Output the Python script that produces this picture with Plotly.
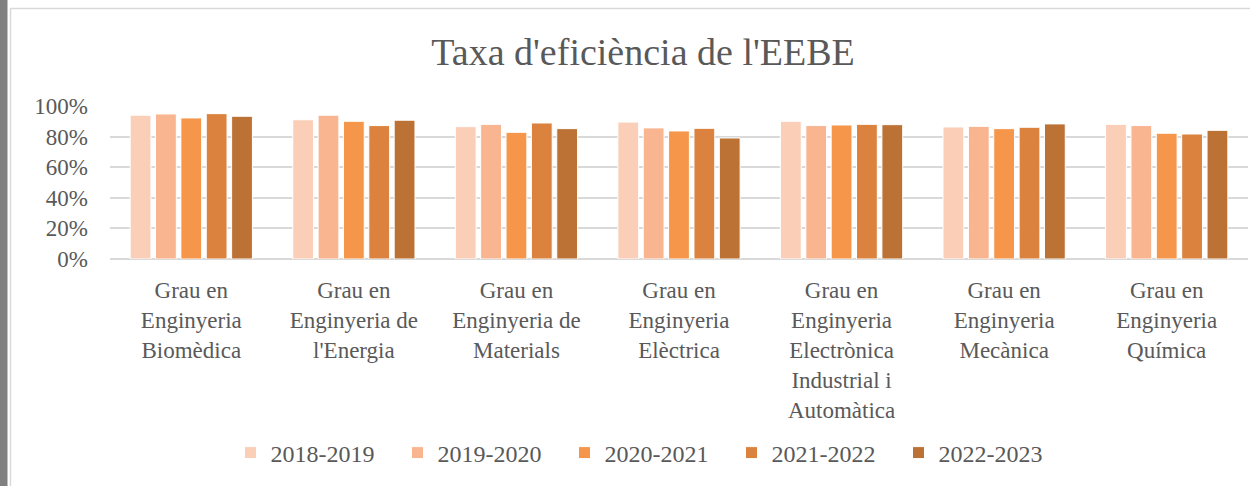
import plotly.graph_objects as go

categories = [
    "Grau en<br>Enginyeria<br>Biomèdica",
    "Grau en<br>Enginyeria de<br>l'Energia",
    "Grau en<br>Enginyeria de<br>Materials",
    "Grau en<br>Enginyeria<br>Elèctrica",
    "Grau en<br>Enginyeria<br>Electrònica<br>Industrial i<br>Automàtica",
    "Grau en<br>Enginyeria<br>Mecànica",
    "Grau en<br>Enginyeria<br>Química",
]

series_names = ["2018-2019", "2019-2020", "2020-2021", "2021-2022", "2022-2023"]

v_2018_2019 = [0.94, 0.91, 0.865, 0.895, 0.900, 0.863, 0.880]
v_2019_2020 = [0.948, 0.94, 0.880, 0.857, 0.872, 0.867, 0.872]
v_2020_2021 = [0.922, 0.90, 0.828, 0.837, 0.876, 0.852, 0.822]
v_2021_2022 = [0.95, 0.872, 0.889, 0.854, 0.880, 0.861, 0.817]
v_2022_2023 = [0.933, 0.907, 0.852, 0.791, 0.878, 0.883, 0.841]

series_values = [v_2018_2019, v_2019_2020, v_2020_2021, v_2021_2022, v_2022_2023]
colors = ["#FBCEB8", "#F9B490", "#F5964A", "#DB833E", "#BB7234"]

y_ticks = [0, 0.2, 0.4, 0.6, 0.8, 1.0]

FONT = "Liberation Serif, DejaVu Serif, serif"
TXT = "#595959"

fig = go.Figure()
for name, vals, col in zip(series_names, series_values, colors):
    fig.add_trace(go.Bar(
        x=categories, y=vals, name=name,
        marker=dict(color=col, line=dict(color="#FFFFFF", width=1)),
    ))

# plot area in pixels: x 110..1248, y 106..259
L, R, T, B = 110, 2, 106, 227
W, H = 1250, 486
pw = W - L - R
ph = H - T - B

def px_x(px):
    return (px - L) / pw

def px_y(py):
    return (H - B - py) / ph

shapes = [
    dict(type="rect", xref="paper", yref="paper",
         x0=px_x(0), x1=px_x(7.5), y0=px_y(H), y1=px_y(0),
         fillcolor="#808080", line=dict(width=0), layer="below"),
    dict(type="path", xref="paper", yref="paper",
         path=f"M {px_x(10.5)},{px_y(H)} L {px_x(10.5)},{px_y(8.5)} L {px_x(W)},{px_y(8.5)}",
         line=dict(color="#D9D9D9", width=1.5), layer="below"),
]

fig.update_layout(
    width=W, height=H,
    margin=dict(l=L, r=R, t=T, b=B, pad=0),
    paper_bgcolor="#FFFFFF", plot_bgcolor="#FFFFFF",
    font=dict(family=FONT, color=TXT, size=23),
    title=dict(text="Taxa d'eficiència de l'EEBE", x=643 / W, y=1 - 52 / H,
               xanchor="center", yanchor="middle", xref="container", yref="container",
               font=dict(family=FONT, size=38, color=TXT)),
    barmode="group", bargap=0.22, bargroupgap=0.18,
    showlegend=True,
    legend=dict(orientation="h", x=px_x(648), y=px_y(453), xanchor="center", yanchor="middle",
                font=dict(family=FONT, size=24, color=TXT), traceorder="normal",
                entrywidth=122, entrywidthmode="pixels",
                bgcolor="rgba(0,0,0,0)"),
    shapes=shapes,
)
fig.update_yaxes(range=[0, 1.0], tickvals=y_ticks, tickformat=".0%",
                 showgrid=True, gridcolor="#D9D9D9", gridwidth=1.5,
                 zeroline=True, zerolinecolor="#D9D9D9", zerolinewidth=1.5,
                 showline=False, ticks="", ticklabelstandoff=21,
                 tickfont=dict(family=FONT, size=23, color=TXT))
fig.update_xaxes(showgrid=False, showline=False, ticks="", tickangle=0,
                 ticklabelstandoff=15,
                 tickfont=dict(family=FONT, size=23, color=TXT))

fig.write_html("out.html",
               config={"displayModeBar": False},
               post_script="document.body.style.margin='0';document.body.style.overflow='hidden';")
